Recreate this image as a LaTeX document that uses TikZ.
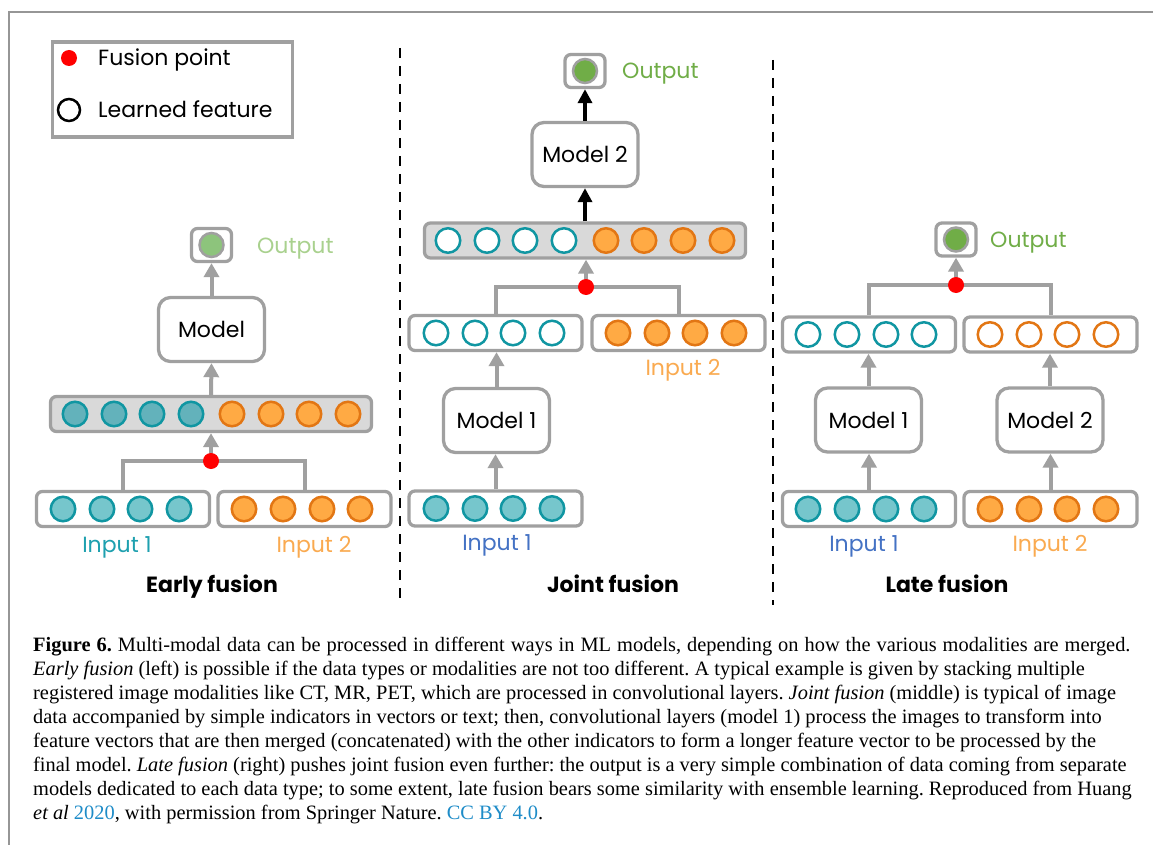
\documentclass[tikz,border=0pt]{standalone}
\usepackage{fontspec}
\setmainfont{Liberation Serif}
\newfontfamily\dfont{Poppins}
\usetikzlibrary{arrows.meta}
\frenchspacing
\definecolor{boxgray}{RGB}{160,160,160}
\definecolor{framegray}{RGB}{150,150,150}
\definecolor{catgray}{RGB}{217,217,217}
\definecolor{tealS}{RGB}{16,150,162}
\definecolor{tealF}{RGB}{118,198,204}
\definecolor{tealD}{RGB}{99,178,187}
\definecolor{orS}{RGB}{226,118,20}
\definecolor{orF}{RGB}{255,170,68}
\definecolor{grnL}{RGB}{141,196,124}
\definecolor{grnD}{RGB}{112,173,71}
\definecolor{grnLt}{RGB}{169,209,142}
\definecolor{inBlue}{RGB}{68,114,196}
\definecolor{inTeal}{RGB}{30,160,175}
\definecolor{inOr}{RGB}{250,170,80}
\definecolor{capBlue}{RGB}{30,140,200}
\newcommand\featrow[4]{\foreach \xx [count=\ii] in {#4} {\node[#3] (#1-\ii) at (\xx,#2) {};}}
\tikzset{
  fbox/.style={draw=boxgray, line width=3.3pt, rounded corners=6pt, fill=white, minimum width=173pt, minimum height=35pt, inner sep=0pt},
  catbox/.style={fbox, fill=catgray, minimum width=321pt},
  mbox/.style={draw=boxgray, line width=3.3pt, rounded corners=12pt, fill=white, minimum width=106pt, minimum height=64pt, inner sep=0pt, font=\dfont\fontsize{22}{26}\selectfont},
  obox/.style={draw=boxgray, line width=3.3pt, rounded corners=6pt, fill=white, minimum width=40pt, minimum height=33pt, inner sep=0pt},
  feat/.style={circle, line width=2.5pt, minimum size=24.5pt, inner sep=0pt},
  tealfill/.style={feat, draw=tealS, fill=tealF},
  tealdark/.style={feat, draw=tealS, fill=tealD},
  tealopen/.style={feat, draw=tealS, fill=white},
  orfill/.style={feat, draw=orS, fill=orF},
  oropen/.style={feat, draw=orS, fill=white},
  outcirc/.style={circle, line width=2.5pt, minimum size=24pt, inner sep=0pt, draw=boxgray},
  fusiondot/.style={circle, fill=red, minimum size=16pt, inner sep=0pt},
  garrow/.style={draw=boxgray, line width=4pt, -{Triangle[width=15pt,length=14pt]}},
  barrow/.style={draw=black, line width=4pt, -{Triangle[width=14pt,length=14pt]}},
  branch/.style={draw=boxgray, line width=4pt},
  dashline/.style={draw=black, line width=2.4pt, dash pattern=on 10pt off 8pt},
  lbl/.style={font=\dfont\fontsize{22}{26}\selectfont, inner sep=0pt},
  ttl/.style={font=\dfont\bfseries\fontsize{22}{26}\selectfont, inner sep=0pt, anchor=base},
  capline/.style={font=\fontsize{20.4}{24}\selectfont, inner sep=0pt, anchor=base west},
}
\begin{document}
\begin{tikzpicture}[x=1pt,y=-1pt]
\useasboundingbox (0,0) rectangle (1153,845);
\fill[white] (0,0) rectangle (1153,845);
% frame
\coordinate (fr1) at (9,845); \coordinate (fr2) at (9,12); \coordinate (fr3) at (1153,12);
\draw[framegray, line width=2pt] (fr1) -- (fr2) -- (fr3);
% legend
\node[draw=boxgray, line width=3.3pt, fill=white, minimum width=240pt, minimum height=95pt, anchor=north west, inner sep=0pt] (legend) at (50.5,40.5) {};
\node[fusiondot] (legdot) at (69,58) {};
\node[circle, draw=black, line width=2.5pt, minimum size=22pt, inner sep=0pt] (legcirc) at (69,110) {};
\node[lbl, anchor=base west] (legt1) at (98,65.5) {Fusion point};
\node[lbl, anchor=base west] (legt2) at (98,118) {Learned feature};
% dashed separators
\coordinate (d1a) at (400,48); \coordinate (d1b) at (400,600);
\coordinate (d2a) at (773,60); \coordinate (d2b) at (773,605);
\draw[dashline] (d1a) -- (d1b);
\draw[dashline] (d2a) -- (d2b);

% ================= EARLY FUSION
\node[obox] (outE) at (211.5,245) {};
\node[outcirc, fill=grnL] (outEc) at (outE) {};
\node[lbl, anchor=base west, text=grnLt] (outEt) at (257,253) {Output};
\node[mbox] (modE) at (211.5,329.5) {Model};
\node[catbox] (catE) at (211,414) {};
\featrow{cE}{414}{tealdark}{75,114,152,191}
\featrow{cEo}{414}{orfill}{232,271,309,348}
\node[fbox] (inE1) at (123,509) {};
\featrow{iE1}{509}{tealfill}{63,102,140,179}
\node[fbox] (inE2) at (304.5,509) {};
\featrow{iE2}{509}{orfill}{244,283,322,360}
\coordinate (fpE) at (211,461);
\draw[branch] (inE1.north) |- (fpE) -| (inE2.north);
\draw[garrow] (fpE) -- (catE.south);
\node[fusiondot] (fpEd) at (fpE) {};
\draw[garrow] (catE.north) -- (modE.south);
\draw[garrow] (modE.north) -- (outE.south);
\node[lbl, anchor=base, text=inTeal] (inE1t) at (117,552) {Input 1};
\node[lbl, anchor=base, text=inOr] (inE2t) at (314,552) {Input 2};
\node[ttl] (ttlE) at (212,592) {Early fusion};

% ================= JOINT FUSION
\node[obox] (outJ) at (585,71) {};
\node[outcirc, fill=grnD] (outJc) at (outJ) {};
\node[lbl, anchor=base west, text=grnD] (outJt) at (622,79) {Output};
\node[mbox] (modJ2) at (585,154.5) {Model 2};
\node[catbox] (catJ) at (585,240.5) {};
\featrow{cJ}{240.5}{tealopen}{448,487,525,564}
\featrow{cJo}{240.5}{orfill}{606,644,683,722}
\node[fbox] (fJ1) at (495.5,333) {};
\featrow{fJ1c}{333}{tealopen}{436,475,513,552}
\node[fbox] (fJ2) at (678.5,333) {};
\featrow{fJ2c}{333}{orfill}{618,657,695,734}
\node[mbox] (modJ1) at (496.5,420.5) {Model 1};
\node[fbox] (inJ1) at (495.5,508.5) {};
\featrow{iJ1}{508.5}{tealfill}{436,475,513,552}
\coordinate (fpJ) at (586,287);
\draw[branch] (fJ1.north) |- (fpJ) -| (fJ2.north);
\draw[garrow] (fpJ) -- (fpJ |- catJ.south);
\node[fusiondot] (fpJd) at (fpJ) {};
\draw[barrow] (catJ.north) -- (modJ2.south);
\draw[barrow] (modJ2.north) -- (outJ.south);
\draw[garrow] (inJ1.north) -- (inJ1.north |- modJ1.south);
\draw[garrow] (modJ1.north) -- (modJ1.north |- fJ1.south);
\node[lbl, anchor=base, text=inOr] (inJ2t) at (683,375) {Input 2};
\node[lbl, anchor=base, text=inBlue] (inJ1t) at (497,550) {Input 1};
\node[ttl] (ttlJ) at (613,592) {Joint fusion};

% ================= LATE FUSION
\node[obox] (outL) at (956,239.5) {};
\node[outcirc, fill=grnD] (outLc) at (outL) {};
\node[lbl, anchor=base west, text=grnD] (outLt) at (990,247) {Output};
\node[fbox] (fL1) at (869,334.5) {};
\featrow{fL1c}{334.5}{tealopen}{808,847,886,924}
\node[fbox] (fL2) at (1050.5,334.5) {};
\featrow{fL2c}{334.5}{oropen}{990,1029,1067,1106}
\node[mbox] (modL1) at (868.5,420) {Model 1};
\node[mbox] (modL2) at (1050,420) {Model 2};
\node[fbox] (inL1) at (869,509) {};
\featrow{iL1}{509}{tealfill}{808,847,886,924}
\node[fbox] (inL2) at (1050.5,509) {};
\featrow{iL2}{509}{orfill}{990,1029,1067,1106}
\coordinate (fpL) at (956,285);
\draw[branch] (fL1.north) |- (fpL) -| (fL2.north);
\draw[garrow] (fpL) -- (outL.south);
\node[fusiondot] (fpLd) at (fpL) {};
\draw[garrow] (modL1.north) -- (modL1.north |- fL1.south);
\draw[garrow] (modL2.north) -- (modL2.north |- fL2.south);
\draw[garrow] (inL1.north) -- (inL1.north |- modL1.south);
\draw[garrow] (inL2.north) -- (inL2.north |- modL2.south);
\node[lbl, anchor=base, text=inBlue] (inL1t) at (864,551) {Input 1};
\node[lbl, anchor=base, text=inOr] (inL2t) at (1050,551) {Input 2};
\node[ttl] (ttlL) at (947,592) {Late fusion};

% ================= CAPTION
\node[capline] (cap1) at (33,651) {\spaceskip=6.0pt\relax\textbf{Figure 6.} Multi-modal data can be processed in different ways in ML models, depending on how the various modalities are merged.};
\node[capline] (cap2) at (33,675) {\textit{Early fusion} (left) is possible if the data types or modalities are not too different. A typical example is given by stacking multiple};
\node[capline] (cap3) at (33,699) {registered image modalities like CT, MR, PET, which are processed in convolutional layers. \textit{Joint fusion} (middle) is typical of image};
\node[capline] (cap4) at (33,723) {data accompanied by simple indicators in vectors or text; then, convolutional layers (model 1) process the images to transform into};
\node[capline] (cap5) at (33,747) {feature vectors that are then merged (concatenated) with the other indicators to form a longer feature vector to be processed by the};
\node[capline] (cap6) at (33,771) {final model. \textit{Late fusion} (right) pushes joint fusion even further: the output is a very simple combination of data coming from separate};
\node[capline] (cap7) at (33,795) {models dedicated to each data type; to some extent, late fusion bears some similarity with ensemble learning. Reproduced from Huang};
\node[capline] (cap8) at (33,819) {\textit{et al} \textcolor{capBlue}{2020}, with permission from Springer Nature. \textcolor{capBlue}{CC BY 4.0}.};
\end{tikzpicture}
\end{document}
